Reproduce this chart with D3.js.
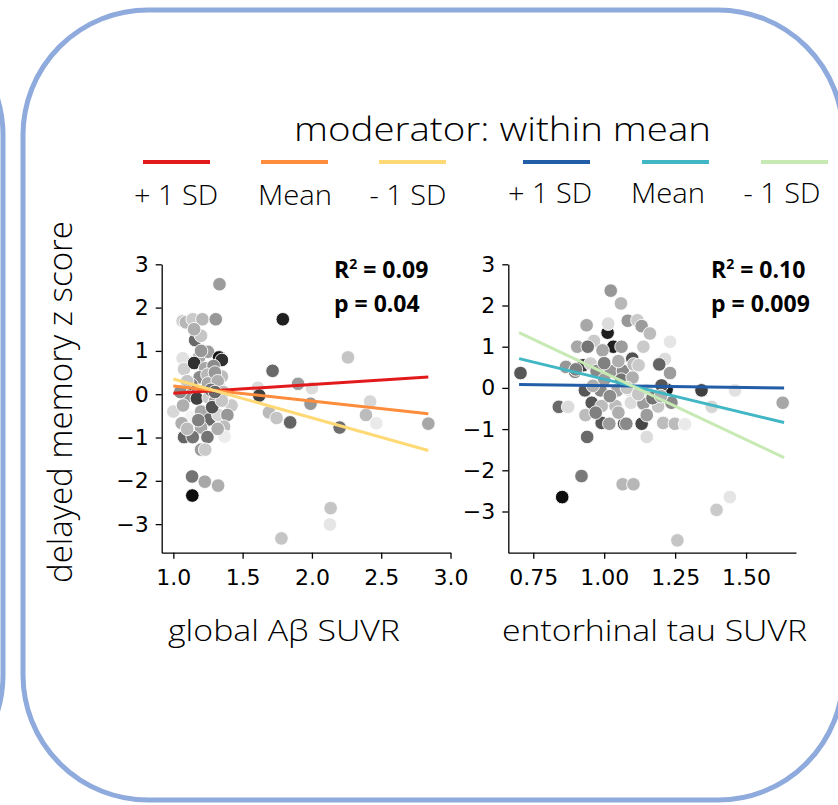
<!DOCTYPE html>
<html>
  <head>
    <meta charset="utf-8">
    <script src="https://d3js.org/d3.v7.min.js"></script>
    <style>
      body { margin: 0; background: #fff; }
    </style>
  </head>
  <body>
    <div id="container"></div>

    <script type="text/javascript">
      var width = 838,
          height = 805;

      // global Abeta panel: x = SUVR, y = delayed memory z, m = moderator shade (0 light .. 1 dark)
      var ampX = [1.333, 1.79, 2.26, 1.716, 1.90, 2.0, 1.61, 1.62, 1.99, 1.69, 1.745, 1.843, 2.2,
                  2.42, 2.39, 2.465, 2.84, 2.135, 2.13, 1.78, 1.137, 1.135, 1.227, 1.323, 1.0,
                  1.067, 1.09, 1.14, 1.21, 1.306, 1.157, 1.2, 1.067, 1.077, 1.186, 1.25, 1.33,
                  1.35, 1.15, 1.23, 1.29, 1.19, 1.246, 1.35, 1.13, 1.084, 1.25, 1.33, 1.1, 1.17,
                  1.255, 1.3, 1.42, 1.07, 1.13, 1.2, 1.26, 1.325, 1.39, 1.06, 1.2, 1.366, 1.077,
                  1.14, 1.246, 1.37, 1.2, 1.23, 1.2, 1.15, 1.3, 1.32, 1.36, 1.1, 1.28, 1.18, 1.32,
                  1.1, 1.35, 1.05, 1.27, 1.3];
      var ampY = [2.54, 1.73, 0.85, 0.54, 0.24, 0.14, 0.15, -0.03, -0.22, -0.42, -0.55, -0.65, -0.77,
                  -0.17, -0.48, -0.67, -0.68, -2.63, -3.01, -3.33, -2.34, -1.9, -2.02, -2.11, -0.4,
                  1.69, 1.66, 1.73, 1.73, 1.73, 1.25, 1.35, 0.83, 0.58, 0.85, 0.98, 0.85,
                  0.79, 0.72, 0.6, 0.65, 0.39, 0.45, 0.41, 0.22, 0.1, 0.25, 0.18, -0.05, -0.1,
                  -0.08, -0.17, -0.26, -0.26, -0.52, -0.4, -0.58, -0.48, -0.48, -0.67, -0.77, -0.75, -0.99,
                  -0.99, -0.99, -0.98, -1.28, -1.28, 1.0, 1.5, 0.5, 0.3, 0.05, 0.3, -0.3, -0.6, -0.8,
                  -0.8, -0.15, 0.05, 0.1, 0.05];
      var ampM = [0.38, 0.92, 0.2, 0.6, 0.38, 0.1, 0.1, 0.78, 0.4, 0.25, 0.2, 0.62, 0.58,
                  0.12, 0.24, 0.04, 0.33, 0.2, 0.06, 0.2, 1.0, 0.55, 0.33, 0.3, 0.12,
                  0.16, 0.26, 0.18, 0.26, 0.4, 0.6, 0.2, 0.08, 0.16, 0.33, 0.38, 0.97,
                  0.85, 0.85, 0.33, 0.45, 0.46, 0.26, 0.24, 0.53, 0.85, 0.33, 0.1, 0.4, 0.78,
                  0.18, 0.38, 0.18, 0.3, 0.0, 0.33, 0.6, 0.12, 0.4, 0.3, 0.33, 0.24, 0.62,
                  0.55, 0.55, 0.03, 0.38, 0.18, 0.4, 0.3, 0.4, 0.3, 0.25, 0.2, 0.7, 0.5, 0.3,
                  0.25, 0.2, 0.45, 0.55, 0.6];

      // entorhinal tau panel
      var tauX = [0.705, 1.023, 1.059, 0.938, 1.012, 1.032, 1.083, 1.117, 1.132, 1.161, 1.014, 0.964,
                  0.905, 0.942, 0.994, 1.061, 1.138, 1.232, 1.214, 1.099, 1.194, 1.232, 0.865, 0.897,
                  0.926, 0.952, 0.973, 1.023, 1.066, 1.104, 1.121, 0.932, 0.987, 1.046, 1.09, 1.149,
                  1.22, 1.202, 1.343, 1.461, 1.629, 1.379, 0.84, 0.873, 0.956, 0.991, 1.04, 1.094,
                  1.138, 1.19, 1.237, 0.934, 0.991, 1.018, 1.07, 1.078, 1.132, 1.15, 1.208, 1.249,
                  1.285, 1.15, 0.94, 0.92, 0.852, 1.065, 1.103, 1.396, 1.443, 1.258,
                  1.0, 1.06, 1.1, 0.96, 1.08, 1.12, 1.02, 0.97, 1.05, 1.17, 1.2, 0.9, 1.0, 1.05];
      var tauY = [0.36, 2.36, 2.05, 1.52, 1.34, 1.0, 1.63, 1.64, 1.5, 1.32, 1.56, 1.14,
                  1.0, 1.0, 0.91, 1.0, 1.0, 1.12, 0.7, 0.71, 0.57, 0.36, 0.51, 0.39,
                  0.55, 0.59, 0.41, 0.41, 0.41, 0.57, 0.55, -0.06, -0.06, -0.06, -0.06, -0.06,
                  -0.04, 0.06, -0.06, -0.06, -0.36, -0.46, -0.46, -0.46, -0.36, -0.44, -0.44, -0.36,
                  -0.38, -0.45, -0.36, -0.66, -0.85, -0.87, -0.87, -0.87, -0.87, -0.66, -0.85, -0.87,
                  -0.88, -1.19, -1.19, -2.14, -2.65, -2.34, -2.34, -2.96, -2.65, -3.7,
                  0.2, 0.2, 0.25, 0.05, 0.0, -0.15, -0.2, -0.6, -0.6, -0.25, -0.2, 0.45, 0.6, 0.65];
      var tauM = [0.68, 0.4, 0.26, 0.33, 0.92, 0.92, 0.4, 0.18, 0.38, 0.24, 0.1, 0.18,
                  0.33, 0.55, 0.33, 0.38, 0.18, 0.06, 0.1, 0.7, 0.62, 0.38, 0.4, 0.46,
                  0.78, 0.16, 0.46, 0.4, 0.46, 0.24, 0.18, 0.68, 0.46, 0.33, 0.1, 0.1,
                  0.92, 0.68, 0.78, 0.08, 0.33, 0.12, 0.6, 0.1, 0.68, 0.24, 0.24, 0.1,
                  0.38, 0.2, 0.46, 0.24, 0.68, 0.38, 0.68, 0.46, 0.75, 0.38, 0.24, 0.24,
                  0.04, 0.1, 0.6, 0.53, 1.0, 0.26, 0.26, 0.18, 0.06, 0.2,
                  0.38, 0.55, 0.3, 0.3, 0.2, 0.2, 0.45, 0.5, 0.3, 0.55, 0.3, 0.5, 0.5, 0.3];

      // simple slopes at +1 SD, mean, -1 SD of the moderator
      var legendLabels = ["+ 1 SD", "Mean", "- 1 SD"];
      var ampColors = ["#e31a1c", "#fd8d3c", "#fed976"];
      var tauColors = ["#225ea8", "#41b6c4", "#c7e9b4"];
      var ampLineX = [1.0, 2.84];
      var ampLineY = [[0.02, 0.40], [0.19, -0.45], [0.35, -1.30]];
      var tauLineX = [0.70, 1.634];
      var tauLineY = [[0.08, 0.0], [0.71, -0.84], [1.34, -1.69]];

      var ampTicks = [1.0, 1.5, 2.0, 2.5, 3.0];
      var tauTicks = [0.75, 1.00, 1.25, 1.50];
      var yTicks = [-3, -2, -1, 0, 1, 2, 3];
      var ampStats = ["0.09", "0.04"];
      var tauStats = ["0.10", "0.009"];

      var lightFont = "'Open Sans', 'Noto Sans', sans-serif";
      var tickFont = "'DejaVu Sans', sans-serif";

      var svg = d3.select("#container").append("svg")
        .attr("width", width)
        .attr("height", height);

      // panel frames
      var frameColor = "#8faadc";
      svg.append("rect")
        .attr("x", 23).attr("y", 10)
        .attr("width", 820).attr("height", 790)
        .attr("rx", 125).attr("ry", 125)
        .style("fill", "none").style("stroke", frameColor).style("stroke-width", 5);
      svg.append("rect")
        .attr("x", -500).attr("y", 10)
        .attr("width", 503).attr("height", 790)
        .attr("rx", 125).attr("ry", 125)
        .style("fill", "none").style("stroke", frameColor).style("stroke-width", 5);

      // legend
      svg.append("text")
        .attr("x", 294).attr("y", 141)
        .attr("textLength", 417).attr("lengthAdjust", "spacingAndGlyphs")
        .style("font-family", lightFont).style("font-weight", 300)
        .style("font-size", "33px")
        .text("moderator: within mean");

      var labelWidths = [84, 74, 77];
      function legendGroup(colors, x0, step, labelY, labelShift) {
        colors.forEach(function(c, i) {
          var lx = x0 + i * step;
          svg.append("line")
            .attr("x1", lx).attr("x2", lx + 67)
            .attr("y1", 162).attr("y2", 162)
            .style("stroke", c).style("stroke-width", 4);
          svg.append("text")
            .attr("x", lx + 33 + labelShift[i]).attr("y", labelY)
            .attr("text-anchor", "middle")
            .attr("textLength", labelWidths[i]).attr("lengthAdjust", "spacingAndGlyphs")
            .style("font-family", lightFont).style("font-weight", 300)
            .style("font-size", "27px")
            .text(legendLabels[i]);
        });
      }
      legendGroup(ampColors, 143, 118, 205, [0, 1, -4]);
      legendGroup(tauColors, 523, 119, 203, [-6, -7, -12]);

      var shade = d3.scaleLinear().domain([0, 1]).range(["#f3f3f3", "#0d0d0d"]);

      function panel(opts) {
        var x = d3.scaleLinear().domain(opts.xDomain).range(opts.xRange);
        var y = d3.scaleLinear().domain(opts.yDomain).range([552.7, 264.3]);
        var g = svg.append("g");

        var pts = opts.xs.map(function(v, i) {
          return { x: v, y: opts.ys[i], m: opts.ms[i] };
        });
        g.selectAll("circle")
          .data(pts)
          .enter().append("circle")
            .attr("cx", function(d) { return x(d.x); })
            .attr("cy", function(d) { return y(d.y); })
            .attr("r", 6.8)
            .style("fill", function(d) { return shade(d.m); })
            .style("stroke", "#fff")
            .style("stroke-width", 0.9);

        opts.lineY.forEach(function(ly, i) {
          g.append("line")
            .attr("x1", x(opts.lineX[0])).attr("x2", x(opts.lineX[1]))
            .attr("y1", y(ly[0])).attr("y2", y(ly[1]))
            .style("stroke", opts.colors[i])
            .style("stroke-width", 3);
        });

        var xAxis = g.append("g")
          .attr("transform", "translate(0,552.7)")
          .call(d3.axisBottom(x).tickValues(opts.xTicks).tickFormat(d3.format(opts.fmt))
            .tickSize(6).tickSizeOuter(0).tickPadding(11));
        var yAxis = g.append("g")
          .attr("transform", "translate(" + opts.xRange[0] + ",0)")
          .call(d3.axisLeft(y).tickValues(yTicks).tickFormat(d3.format("d"))
            .tickSize(6).tickSizeOuter(0).tickPadding(7));
        [xAxis, yAxis].forEach(function(a) {
          a.selectAll("text")
            .style("font-family", tickFont).style("font-size", "22px").style("fill", "#000");
          a.selectAll("line, path").style("stroke", "#000").style("stroke-width", 1.3);
        });

        // x label
        g.append("text")
          .attr("x", opts.label.x).attr("y", 641)
          .attr("textLength", opts.label.w).attr("lengthAdjust", "spacingAndGlyphs")
          .style("font-family", lightFont).style("font-weight", 300)
          .style("font-size", "30px")
          .text(opts.label.text);

        // stats
        var st = g.append("g")
          .style("font-family", "'Open Sans', sans-serif")
          .style("font-weight", 700).style("font-size", "23px");
        var r2 = st.append("text").attr("x", opts.statX).attr("y", 278);
        r2.append("tspan").text("R");
        r2.append("tspan").attr("dy", -9).style("font-size", "14px").text("2");
        r2.append("tspan").attr("dy", 9).text(" = " + opts.stats[0]);
        st.append("text").attr("x", opts.statX).attr("y", 312)
          .text("p = " + opts.stats[1]);
      }

      panel({
        xs: ampX, ys: ampY, ms: ampM,
        xDomain: [0.916, 3.0], xRange: [161.7, 450.5], yDomain: [-3.66, 3.0],
        xTicks: ampTicks, fmt: ".1f",
        lineX: ampLineX, lineY: ampLineY, colors: ampColors,
        label: { text: "global A\u03b2 SUVR", x: 168, w: 232 },
        statX: 334, stats: ampStats
      });
      panel({
        xs: tauX, ys: tauY, ms: tauM,
        xDomain: [0.662, 1.676], xRange: [508.3, 796], yDomain: [-4.0, 3.0],
        xTicks: tauTicks, fmt: ".2f",
        lineX: tauLineX, lineY: tauLineY, colors: tauColors,
        label: { text: "entorhinal tau SUVR", x: 502, w: 305 },
        statX: 711, stats: tauStats
      });

      // shared y label
      svg.append("text")
        .attr("transform", "translate(72,583) rotate(-90)")
        .attr("textLength", 362).attr("lengthAdjust", "spacingAndGlyphs")
        .style("font-family", lightFont).style("font-weight", 300)
        .style("font-size", "33px")
        .text("delayed memory z score");
    </script>
  </body>
</html>
